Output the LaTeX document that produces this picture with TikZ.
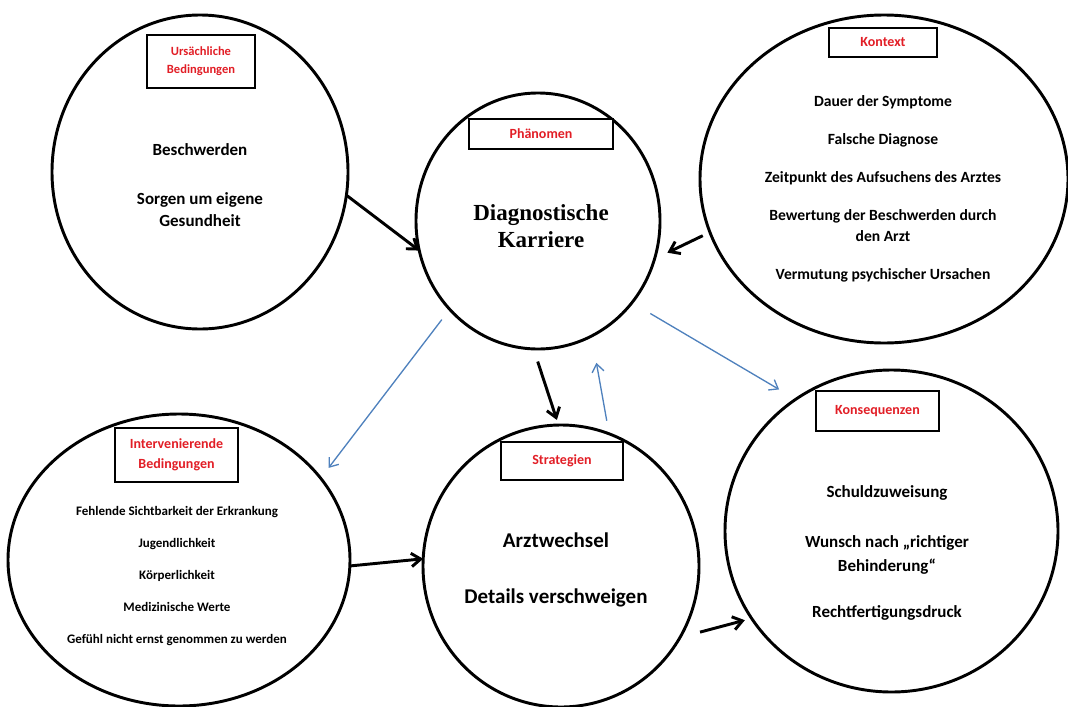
\documentclass[tikz,border=0pt]{standalone}
\usepackage{fontspec}
\setmainfont{Carlito}
\newfontfamily\timesbf{Liberation Serif}
\usepackage{tikz}
\usetikzlibrary{shapes.geometric, arrows.meta}
\definecolor{tagred}{RGB}{226,30,38}
\definecolor{linkblue}{RGB}{79,129,189}

\begin{document}
\begin{tikzpicture}[x=0.75pt, y=-0.75pt,
    bubble/.style={draw, ellipse, line width=2.2pt, inner sep=0pt, outer sep=0pt},
    tag/.style={draw, fill=white, line width=2pt, inner sep=0pt, text=tagred, align=center,
        font=\bfseries\fontsize{10.5pt}{15pt}\selectfont},
    body/.style={align=center},
    major/.style={->, >={Straight Barb[length=7pt, width=10pt]}, line width=2.2pt},
    minor/.style={->, >={Straight Barb[length=6pt, width=9pt]}, line width=1pt, color=linkblue}]

            \useasboundingbox (0,0) rectangle (1068,707);

            % the six circles
            \node[bubble, minimum width=222pt, minimum height=235.5pt] (urs) at (200,172) {};
            \node[bubble, minimum width=183pt, minimum height=192pt] (phae) at (538,221) {};
            \node[bubble, minimum width=276pt, minimum height=246pt] (kon) at (884,179) {};
            \node[bubble, minimum width=256.5pt, minimum height=219pt] (inter) at (179,560) {};
            \node[bubble, minimum width=207pt, minimum height=211.5pt] (strat) at (561,566) {};
            \node[bubble, minimum width=249.75pt, minimum height=241.5pt] (kons) at (891.5,531) {};

            % headings
            \node[tag, minimum width=81pt, minimum height=39.75pt,
                font=\bfseries\fontsize{9.4pt}{13.5pt}\selectfont] (ursTag) at (201,61.5) {Ursächliche\\Bedingungen};
            \node[tag, minimum width=108pt, minimum height=22.5pt] (phaeTag) at (541,134) {Phänomen};
            \node[tag, minimum width=81pt, minimum height=21.75pt] (konTag) at (883,42.5) {Kontext};
            \node[tag, minimum width=92.25pt, minimum height=40.5pt] (interTag) at (176.5,455) {Intervenierende\\Bedingungen};
            \node[tag, minimum width=91.5pt, minimum height=28.5pt] (stratTag) at (562,461) {Strategien};
            \node[tag, minimum width=92.25pt, minimum height=30pt] (konsTag) at (877.5,411) {Konsequenzen};

            % contents
            \node[body, font=\bfseries\fontsize{12.75pt}{16.5pt}\selectfont] (ursText) at (200,185)
                {Beschwerden\\[20pt]Sorgen um eigene\\Gesundheit};
            \node[body, font=\timesbf\bfseries\fontsize{17.25pt}{20pt}\selectfont] (phaeText) at (541,226)
                {Diagnostische\\Karriere};
            \node[body, font=\bfseries\fontsize{11.7pt}{15.75pt}\selectfont] (konText) at (883,189)
                {Dauer der Symptome\\[12.75pt]Falsche Diagnose\\[12.75pt]Zeitpunkt des Aufsuchens des Arztes\\[12.75pt]Bewertung der Beschwerden durch\\den Arzt\\[12.75pt]Vermutung psychischer Ursachen};
            \node[body, font=\bfseries\fontsize{9.75pt}{12pt}\selectfont] (interText) at (177,576)
                {Fehlende Sichtbarkeit der Erkrankung\\[12pt]Jugendlichkeit\\[12pt]Körperlichkeit\\[12pt]Medizinische Werte\\[12pt]Gefühl nicht ernst genommen zu werden};
            \node[body, font=\bfseries\fontsize{15.75pt}{19pt}\selectfont] (stratText) at (556,570)
                {Arztwechsel\\[23pt]Details verschweigen};
            \node[body, font=\bfseries\fontsize{12.75pt}{18pt}\selectfont] (konsText) at (887,553)
                {Schuldzuweisung\\[19.5pt]Wunsch nach „richtiger\\Behinderung“\\[17pt]Rechtfertigungsdruck};

            % connectors
            \path[major]
            (urs.-9) edge (phae.194)
            (kon.197.5) edge [shorten <=6pt, shorten >=10.7pt] (phae.-18)
            (phae.-92) edge [shorten <=10pt, shorten >=4pt] (strat.91.4)
            (inter.-2.4) edge (strat.177.5)
            (strat.-31) edge [shorten <=15.6pt, shorten >=5.3pt] (kons.212.8)
            ;
            \path[minor]
            (phae.225.8) edge [shorten <=9.7pt, shorten >=9.7pt] (inter.30)
            (phae.-41.2) edge [shorten <=16pt, shorten >=14.5pt] (kons.126.5)
            (strat.70.3) edge [shorten <=10pt, shorten >=20.5pt] (phae.-65.4)
            ;
\end{tikzpicture}
\end{document}
